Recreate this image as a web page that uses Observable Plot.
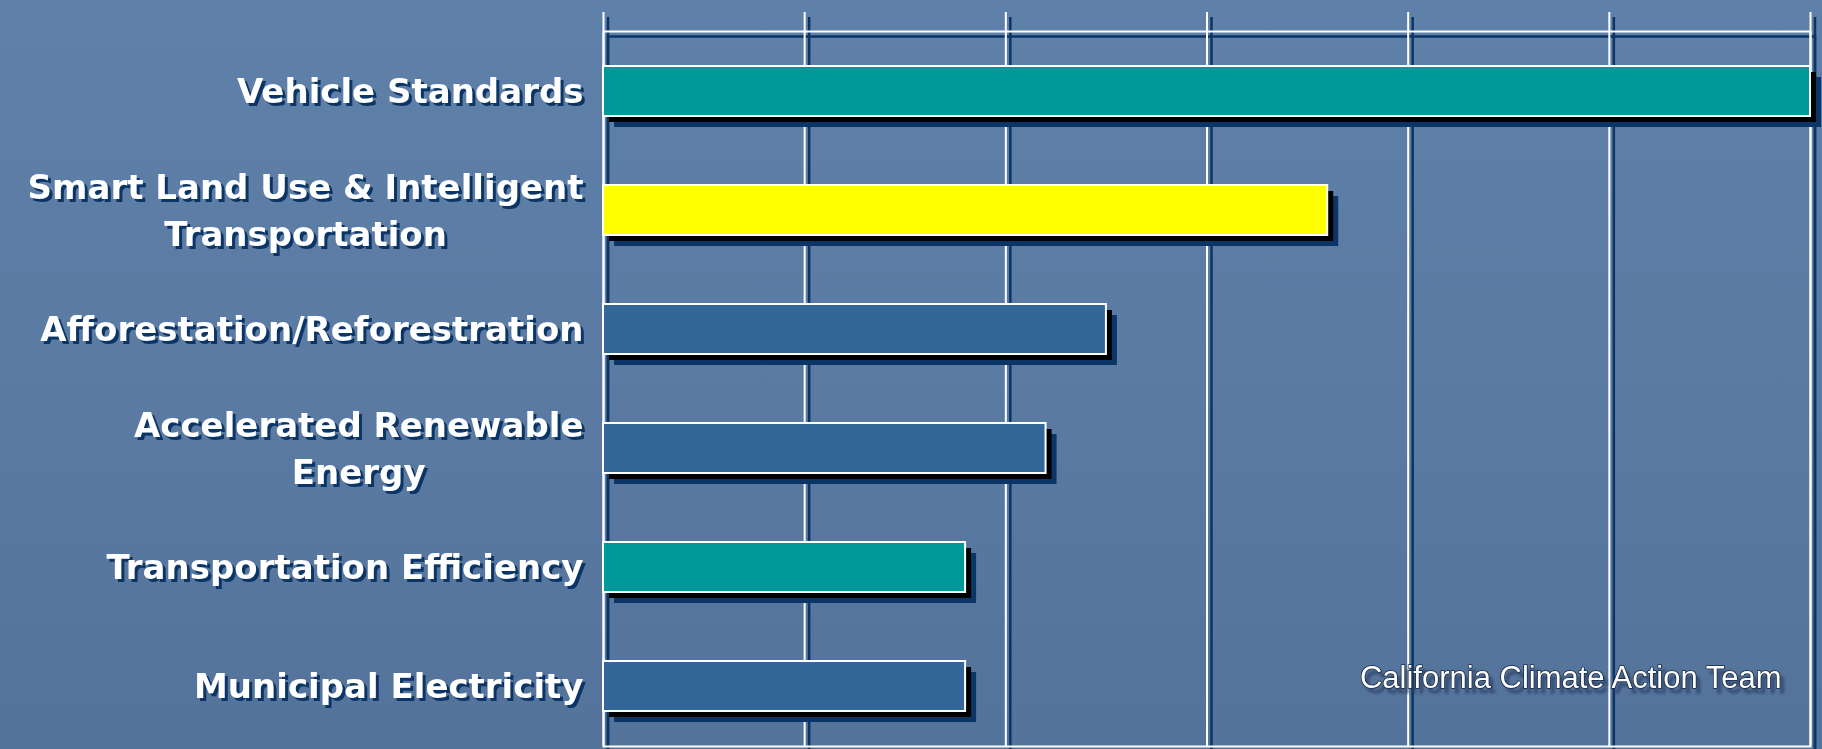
<!DOCTYPE html>
<html>
<head>
<meta charset="utf-8">
<script src="https://cdn.jsdelivr.net/npm/d3@7"></script>
<script src="https://cdn.jsdelivr.net/npm/@observablehq/plot@0.6"></script>
<style>
html, body { margin: 0; padding: 0; }
body {
  width: 1822px; height: 749px; overflow: hidden;
  background: linear-gradient(180deg, #5f80a8 0%, #5a7aa2 55%, #53739b 100%);
}
#chart svg { display: block; }
</style>
</head>
<body>
<div id="chart"></div>
<script>
// ---- data ----
const categories = [
  "Vehicle Standards",
  "Smart Land Use & Intelligent\nTransportation",
  "Afforestation/Reforestration",
  "Accelerated Renewable\nEnergy",
  "Transportation Efficiency",
  "Municipal Electricity"
];
const values = [30, 18, 12.5, 11, 9, 9];
const barColors = ["#009999", "#ffff00", "#336699", "#336699", "#009999", "#336699"];
const xTicks = [0, 5, 10, 15, 20, 25, 30];
const caption = "California Climate Action Team";

// ---- build ----
const data = categories.map((name, i) => ({name, value: values[i]}));
const navy = "#0b3566";

const chart = Plot.plot({
  width: 1822,
  height: 749,
  marginLeft: 603,
  marginRight: 12,
  marginTop: 31,
  marginBottom: 3,
  style: {background: "transparent", overflow: "visible"},
  x: {domain: [0, 30], axis: null},
  y: {domain: categories, axis: null, paddingInner: 0.58, paddingOuter: 0.29},
  color: {domain: categories, range: barColors},
  marks: [
    // grid shadows
    Plot.ruleX(xTicks, {stroke: navy, strokeWidth: 2.5, dx: 4.5, dy: 5, insetTop: -19}),
    Plot.frame({stroke: navy, strokeWidth: 2.5, dx: 4.5, dy: 5}),
    // grid
    Plot.ruleX(xTicks, {stroke: "white", strokeWidth: 2, insetTop: -19}),
    Plot.frame({stroke: "white", strokeWidth: 2}),
    // bar shadows
    Plot.barX(data, {x: "value", y: "name", fill: navy, dx: 11, dy: 11}),
    Plot.barX(data, {x: "value", y: "name", fill: "black", dx: 6, dy: 6}),
    // bars
    Plot.barX(data, {x: "value", y: "name", fill: "name", stroke: "white", strokeWidth: 2}),
    // category labels
    Plot.text(data, {x: 0, y: "name", text: "name", textAnchor: "end", dx: -20, dy: -3,
      fill: "white", fontSize: 34, fontWeight: "bold", fontFamily: "DejaVu Sans", lineHeight: 1.37}),
    // caption
    Plot.text([caption], {text: d => d, frameAnchor: "bottom-right", textAnchor: "end", lineAnchor: "bottom",
      dx: -29, dy: -59, fontSize: 31, fontFamily: "Liberation Sans",
      fill: "white", stroke: "#16263e", strokeWidth: 1.6, paintOrder: "stroke"})
  ]
});

document.getElementById("chart").appendChild(chart);

const textGroups = chart.querySelectorAll('g[aria-label="text"]');
// category labels: navy drop shadow, multi-line labels centred on their longest line
if (textGroups[0]) {
  textGroups[0].style.filter = "drop-shadow(3.5px 3.5px 0 #0b3566)";
}
if (textGroups[1]) {
  textGroups[1].style.filter = "drop-shadow(4px 5px 1px rgba(40,60,95,0.6))";
}
for (const t of chart.querySelectorAll("text")) {
  const spans = t.querySelectorAll("tspan");
  if (spans.length < 2) continue;
  const widths = Array.from(spans, s => s.getComputedTextLength());
  const maxW = Math.max(...widths);
  t.setAttribute("text-anchor", "middle");
  for (const s of spans) s.setAttribute("x", -maxW / 2);
}
</script>
</body>
</html>
